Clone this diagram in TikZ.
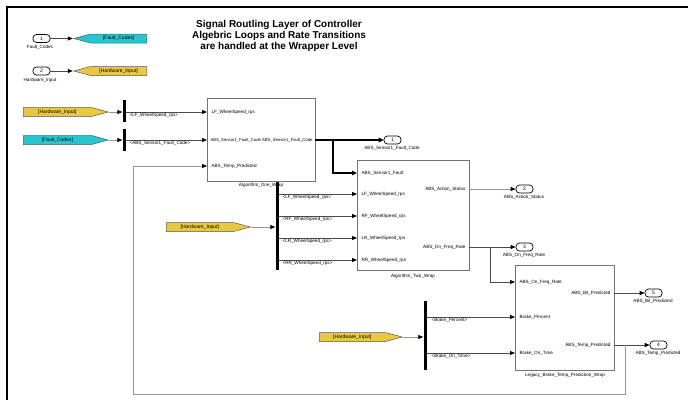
\documentclass[tikz,border=0pt]{standalone}
\usepackage{fontspec}
\setmainfont{Liberation Sans}
\usetikzlibrary{arrows.meta,shapes.symbols}

\definecolor{tagyellow}{RGB}{232,200,66}
\definecolor{tagcyan}{RGB}{38,198,208}
\definecolor{wirecol}{RGB}{75,75,75}
\definecolor{wirelight}{RGB}{150,150,150}
\definecolor{blockedge}{RGB}{115,115,115}

\begin{document}
\begin{tikzpicture}[x=1pt,y=-1pt,
  lbl/.style={font=\fontsize{4.6}{5.5}\selectfont, inner sep=0.4pt},
  lbls/.style={font=\fontsize{4.2}{5}\selectfont, inner sep=0.3pt},
  title/.style={font=\fontsize{10}{11}\selectfont\bfseries, align=center},
  blk/.style={draw=blockedge, line width=0.9pt, fill=white, anchor=north west, inner sep=0pt},
  port/.style={draw=black, line width=0.7pt, rounded corners=3.5pt, minimum width=17pt,
    minimum height=8pt, inner sep=0pt, font=\fontsize{5}{6}\selectfont},
  tagbase/.style={signal, signal pointer angle=30, draw=black!65, line width=0.5pt,
    minimum height=9pt, inner sep=0.6pt, font=\fontsize{5}{6}\selectfont},
  gototag/.style={tagbase, signal to=west, signal from=nowhere, anchor=east},
  fromtag/.style={tagbase, signal to=east, signal from=nowhere, anchor=west},
  busbar/.style={fill=black, draw=none, minimum width=3pt, inner sep=0pt},
  wire/.style={draw=wirecol, line width=0.8pt, -{Triangle[length=5pt,width=4pt,color=black]}},
  wirel/.style={wire, draw=wirelight},
  bus/.style={draw=black, line width=1.8pt, -{Triangle[length=5pt,width=4.5pt]}},
  jdot/.style={circle, fill=black, inner sep=0pt, minimum size=3pt},
  frameline/.style={draw=black, line width=2.2pt}
]
\useasboundingbox (0,0) rectangle (688,400);

% frame edges
\draw[frameline] (688,7) -- (7,7) -- (7,400);

% heading
\node[title] (head) at (279,35.5) {Signal Routling Layer of Controller\\
  Algebric Loops and Rate Transitions\\ are handled at the Wrapper Level};

% root-level inports feeding goto tags
\node[port] (in1) at (41.5,38.5) {1};
\node[lbl] (in1l) at (40,47) {Fault\_Codes};
\node[gototag, fill=tagcyan, minimum width=73pt] (g1) at (147,38.5) {[Fault\_Codes]};
\draw[wire] (in1.east) -- (g1.west);

\node[port] (in2) at (41.5,71) {2};
\node[lbl] (in2l) at (40,80) {Hardware\_Input};
\node[gototag, fill=tagyellow, minimum width=73pt] (g2) at (147,71) {[Hardware\_Input]};
\draw[wire] (in2.east) -- (g2.west);

% wrapper blocks
\node[blk, minimum width=108pt, minimum height=83pt] (A1) at (207,98) {};
\node[lbl] (A1n) at (261,185.5) {Algorithm\_One\_Wrap};
\node[blk, minimum width=112pt, minimum height=110pt] (A2) at (357,160) {};
\node[lbl] (A2n) at (413,276) {Algorithm\_Two\_Wrap};
\node[blk, minimum width=99pt, minimum height=105pt] (L) at (515,265) {};
\node[lbl] (Ln) at (565,375) {Legacy\_Brake\_Temp\_Prediction\_Wrap};

% port locations on the blocks
\coordinate (A1i1) at (207,112);
\coordinate (A1i2) at (207,140);
\coordinate (A1i3) at (207,166);
\coordinate (A1o1) at (315,140);
\coordinate (A2i1) at (357,173);
\coordinate (A2i2) at (357,194);
\coordinate (A2i3) at (357,216);
\coordinate (A2i4) at (357,238);
\coordinate (A2i5) at (357,260);
\coordinate (A2o1) at (469,189);
\coordinate (A2o2) at (469,247);
\coordinate (Li1) at (515,282);
\coordinate (Li2) at (515,317);
\coordinate (Li3) at (515,353);
\coordinate (Lo1) at (614,293);
\coordinate (Lo2) at (614,345);

% port names inside the blocks
\node[lbl, anchor=west] at (211,112) {LF\_WheelSpeed\_rps};
\node[lbls, anchor=west] at (210,140) {ABS\_Sensor1\_Fault\_Code};
\node[lbl, anchor=west] at (211,166) {ABS\_Temp\_Predicted};
\node[lbls, anchor=east] at (313,140) {ABS\_Sensor1\_Fault\_Code};

\node[lbl, anchor=west] at (361,173) {ABS\_Sensor1\_Fault};
\node[lbl, anchor=west] at (361,194) {LF\_WheelSpeed\_rps};
\node[lbl, anchor=west] at (361,216) {RF\_WheelSpeed\_rps};
\node[lbl, anchor=west] at (361,238) {LR\_WheelSpeed\_rps};
\node[lbl, anchor=west] at (361,260) {RR\_WheelSpeed\_rps};
\node[lbl, anchor=east] at (466,189) {ABS\_Action\_Status};
\node[lbl, anchor=east] at (466,247) {ABS\_On\_Freq\_Rate};

\node[lbl, anchor=west] at (519,282) {ABS\_On\_Freq\_Rate};
\node[lbl, anchor=west] at (519,317) {Brake\_Percent};
\node[lbl, anchor=west] at (519,353) {Brake\_On\_Time};
\node[lbl, anchor=east] at (611,293) {ABS\_Bit\_Predicted};
\node[lbl, anchor=east] at (611,345) {ABS\_Temp\_Predicted};

% from tags and bus selectors
\node[fromtag, fill=tagyellow, minimum width=85pt] (f1) at (23,112) {[Hardware\_Input]};
\node[busbar, minimum height=22pt] (b1) at (124,111) {};
\draw[wirel] (f1.east) -- (f1.east -| b1.west);
\draw[wire] (b1.east |- A1i1) -- (A1i1);
\node[lbl, anchor=north west] at (129,112.6) {<LF\_WheelSpeed\_rps>};

\node[fromtag, fill=tagcyan, minimum width=85pt] (f2) at (23,140) {[Fault\_Codes]};
\node[busbar, minimum height=22pt] (b2) at (124,140) {};
\draw[wirel] (f2.east) -- (f2.east -| b2.west);
\draw[wire] (b2.east |- A1i2) -- (A1i2);
\node[lbl, anchor=north west] at (129,140.6) {<ABS\_Sensor1\_Fault\_Code>};

\node[fromtag, fill=tagyellow, minimum width=84pt] (f3) at (166,227) {[Hardware\_Input]};
\node[busbar, minimum height=88pt] (b3) at (277,226) {};
\draw[wirel] (f3.east) -- (f3.east -| b3.west);
\draw[wire] (b3.east |- A2i2) -- (A2i2);
\draw[wire] (b3.east |- A2i3) -- (A2i3);
\draw[wire] (b3.east |- A2i4) -- (A2i4);
\draw[wire] (b3.east |- A2i5) -- (A2i5);
\node[lbl, anchor=north west] at (282,194.6) {<LF\_WheelSpeed\_rps>};
\node[lbl, anchor=north west] at (282,216.6) {<RF\_WheelSpeed\_rps>};
\node[lbl, anchor=north west] at (282,238.6) {<LR\_WheelSpeed\_rps>};
\node[lbl, anchor=north west] at (282,260.6) {<RR\_WheelSpeed\_rps>};

\node[fromtag, fill=tagyellow, minimum width=83pt] (f4) at (319,337) {[Hardware\_Input]};
\node[busbar, minimum height=69pt] (b4) at (425,335.5) {};
\draw[wirel] (f4.east) -- (f4.east -| b4.west);
\draw[wire] (b4.east |- Li2) -- (Li2);
\draw[wire] (b4.east |- Li3) -- (Li3);
\node[lbl, anchor=north west] at (431,317.6) {<Brake\_Percent>};
\node[lbl, anchor=north west] at (431,353.6) {<Brake\_On\_Time>};

% outports
\node[port] (o1) at (392.5,140) {1};
\node[lbl] at (392,148) {ABS\_Sensor1\_Fault\_Code};
\node[port] (o2) at (524.5,189) {2};
\node[lbl] at (524,197) {ABS\_Action\_Status};
\node[port] (o3) at (524.5,247) {3};
\node[lbl] at (524,255) {ABS\_On\_Freq\_Rate};
\node[port] (o5) at (653.5,293) {5};
\node[lbl] at (653,301) {ABS\_Bit\_Predicted};
\node[port] (o4) at (658.5,345) {4};
\node[lbl] at (658,353) {ABS\_Temp\_Predicted};

% fault code bus out of the first wrapper
\coordinate (j1) at (333,140);
\draw[bus] (A1o1) -- (o1.west);
\draw[bus] (j1) |- (A2i1);
\node[jdot] at (j1) {};

% second wrapper outputs
\draw[wirel] (A2o1) -- (o2.west);
\draw[wire] (A2o2) -- (o3.west);
\coordinate (j2) at (490,247);
\draw[wire] (j2) |- (Li1);

% legacy wrapper outputs and temperature feedback
\draw[wire] (Lo1) -- (o5.west);
\draw[wire] (Lo2) -- (o4.west);
\coordinate (j3) at (625,345);
\coordinate (fbR) at (625,394);
\coordinate (fbL) at (133,394);
\draw[wirel] (j3) -- (fbR) -- (fbL) |- (A1i3);
\end{tikzpicture}
\end{document}
